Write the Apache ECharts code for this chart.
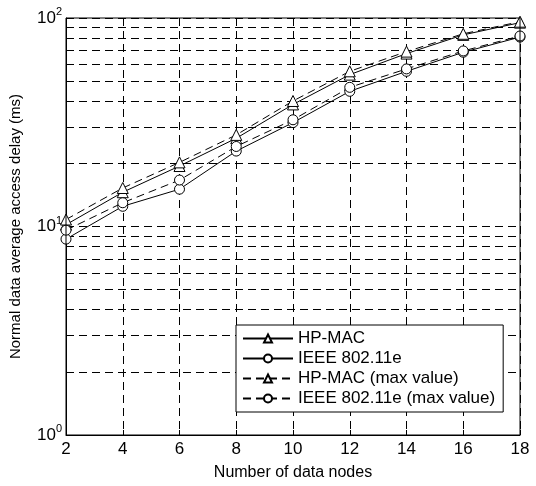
<!DOCTYPE html>
<html>
<head>
<meta charset="utf-8">
<script src="https://cdn.jsdelivr.net/npm/echarts@6/dist/echarts.min.js"></script>
<style>html,body{margin:0;padding:0;background:#fff}#c{width:536px;height:486px}</style>
</head>
<body>
<div id="c"></div>
<script>
const nodes = [2, 4, 6, 8, 10, 12, 14, 16, 18];
const hpMac = [10.2, 14.6, 19.5, 26.5, 38.5, 53.5, 67.5, 83, 95];
const ieee = [8.7, 12.5, 15.1, 23.0, 31.5, 44.5, 55.5, 68.5, 81];
const hpMacMax = [10.8, 15.3, 20.3, 27.5, 40, 55.5, 69, 84, 96];
const ieeeMax = [9.6, 13.0, 16.7, 24.2, 32.5, 46.5, 57, 69.5, 82];
const seriesNames = ['HP-MAC', 'IEEE 802.11e', 'HP-MAC (max value)', 'IEEE 802.11e (max value)'];
const xTitle = 'Number of data nodes';
const yTitle = 'Normal data average access delay (ms)';

const minorGrid = [];
[1, 10].forEach(d => { for (let m = 2; m <= 9; m++) minorGrid.push(m * d); });

const FONT = '"Liberation Sans", Arial, sans-serif';
const dash = [8, 5];

function mk(name, vals, symbol, dashed) {
  return {
    name: name,
    type: 'line',
    data: nodes.map((x, i) => [x, vals[i]]),
    symbol: symbol,
    symbolSize: symbol === 'triangle' ? 11 : 10,
    showSymbol: true,
    itemStyle: { color: '#fff', borderColor: '#000', borderWidth: 1 },
    lineStyle: { color: '#000', width: 1, type: dashed ? dash : 'solid' },
    color: '#000',
    z: 5
  };
}

const series = [
  mk(seriesNames[0], hpMac, 'triangle', false),
  mk(seriesNames[1], ieee, 'circle', false),
  mk(seriesNames[2], hpMacMax, 'triangle', true),
  mk(seriesNames[3], ieeeMax, 'circle', true)
];
series[0].markLine = {
  silent: true,
  symbol: 'none',
  label: { show: false },
  lineStyle: { color: '#000', width: 1, type: dash },
  data: minorGrid.map(v => ({ yAxis: v })),
  z: 1
};

const chart = echarts.init(document.getElementById('c'), null, { renderer: 'canvas' });
chart.setOption({
  animation: false,
  backgroundColor: '#fff',
  textStyle: { fontFamily: FONT, color: '#000' },
  grid: { left: 66, right: 16, top: 18, bottom: 45, show: true, borderColor: '#000', borderWidth: 1, backgroundColor: 'transparent', z: 10 },
  legend: {
    orient: 'vertical',
    left: 236,
    top: 325,
    itemWidth: 50,
    itemHeight: 10,
    itemGap: 3,
    padding: [5, 8, 5, 6],
    backgroundColor: '#fff',
    borderColor: '#000',
    borderWidth: 1,
    textStyle: { fontFamily: FONT, fontSize: 17, color: '#000' },
    data: seriesNames
  },
  xAxis: {
    type: 'value',
    min: 2,
    max: 18,
    interval: 2,
    name: xTitle,
    nameLocation: 'middle',
    nameGap: 30,
    nameTextStyle: { fontFamily: FONT, fontSize: 16, color: '#000' },
    axisLine: { show: true, onZero: false, lineStyle: { color: '#000', width: 1 } },
    axisTick: { show: true, inside: true, length: 5, lineStyle: { color: '#000' } },
    axisLabel: { fontFamily: FONT, fontSize: 17, color: '#000', margin: 6 },
    splitLine: { show: true, lineStyle: { color: '#000', width: 1, type: dash } }
  },
  yAxis: {
    type: 'log',
    logBase: 10,
    min: 1,
    max: 100,
    name: yTitle,
    nameLocation: 'middle',
    nameGap: 43,
    nameTextStyle: { fontFamily: FONT, fontSize: 15, color: '#000' },
    axisLine: { show: true, lineStyle: { color: '#000', width: 1 } },
    axisTick: { show: true, inside: true, length: 5, lineStyle: { color: '#000' } },
    axisLabel: {
      margin: 4,
      formatter: v => '{b|10}{s|' + Math.round(Math.log10(v)) + '}',
      rich: {
        b: { fontFamily: FONT, fontSize: 17, color: '#000' },
        s: { fontFamily: FONT, fontSize: 11, color: '#000', padding: [0, 0, 12, 0] }
      }
    },
    splitLine: { show: true, lineStyle: { color: '#000', width: 1, type: dash } }
  },
  series: series
});
</script>
</body>
</html>
